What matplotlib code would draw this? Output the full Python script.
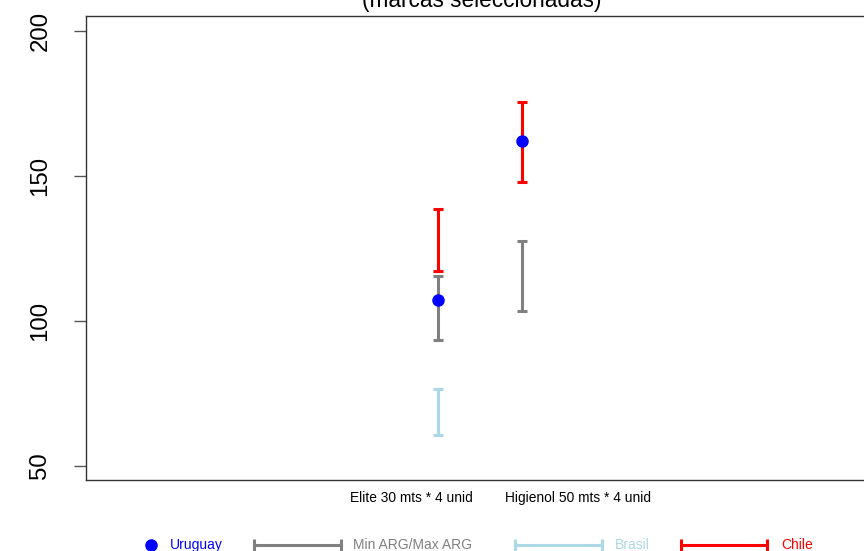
import numpy as np
import matplotlib.pyplot as plt
from matplotlib.lines import Line2D

plt.rcParams['font.family'] = ['Liberation Sans', 'DejaVu Sans']

# data
products = ["Elite 30 mts * 4 unid", "Higienol 50 mts * 4 unid"]
x = np.array([1, 2])
label_pos = [0.68, 2.67]
uruguay = [107.2, 162.0]
arg_min = [93.4, 103.5]
arg_max = [115.5, 127.5]
brasil_min = [60.6, np.nan]
brasil_max = [76.5, np.nan]
chile_min = [117.2, 147.9]
chile_max = [138.6, 175.6]

W, H = 864, 551
fig = plt.figure(figsize=(W / 100, H / 100), dpi=100)
ax = fig.add_axes([86 / W, 71 / H, 792 / W, 464.3 / H])


def bars(lo, hi, color):
    lo = np.asarray(lo, dtype=float)
    hi = np.asarray(hi, dtype=float)
    ok = ~np.isnan(lo)
    ax.errorbar(x[ok], (lo[ok] + hi[ok]) / 2, yerr=(hi[ok] - lo[ok]) / 2,
                fmt='none', ecolor=color, elinewidth=2.2,
                capsize=3.3, capthick=2.2, zorder=2)


bars(arg_min, arg_max, 'grey')
bars(brasil_min, brasil_max, 'lightblue')
bars(chile_min, chile_max, 'red')
ax.plot(x, uruguay, 'o', color='blue', markersize=8, zorder=3)

ax.set_xlim(-3.19, 6.24)
ax.set_ylim(45.07, 205.3)
ax.set_yticks([50, 100, 150, 200])
ax.set_yticklabels(['50', '100', '150', '200'], rotation=90, va='center')
ax.tick_params(axis='y', length=9, width=1, color='#555555', labelsize=17.3, pad=16)
ax.set_xticks(label_pos)
ax.set_xticklabels(products)
ax.tick_params(axis='x', length=0, labelsize=9.9, pad=8)
for s in ax.spines.values():
    s.set_color('#333333')
    s.set_linewidth(1)

# title sits partly above the top edge, as in the reference
fig.text(482 / W, 1 - 7 / H, "(marcas seleccionadas)", ha='center', va='baseline',
         fontsize=16.3)

# legend drawn below the plot
ly = 1 - 545 / H


def fx(px):
    return px / W


fig.add_artist(Line2D([fx(150.7)], [ly], marker='o', color='blue', markersize=8,
                      linestyle='none', transform=fig.transFigure))
fig.text(fx(169.8), ly, "Uruguay", color='blue', fontsize=10, va='center')
legend_items = [
    (254, 340.5, 352.7, 'grey', "Min ARG/Max ARG"),
    (514.6, 601.5, 614.6, 'lightblue', "Brasil"),
    (680.5, 767.3, 781.5, 'red', "Chile"),
]
for x0, x1, tx, c, lab in legend_items:
    fig.add_artist(Line2D([fx(x0), fx(x1)], [ly, ly], color=c, linewidth=2.2,
                          transform=fig.transFigure))
    fig.add_artist(Line2D([fx(x0), fx(x1)], [ly, ly], color=c, marker='|',
                          markersize=9, markeredgewidth=2.2, linestyle='none',
                          transform=fig.transFigure))
    fig.text(fx(tx), ly, lab, color=c, fontsize=10, va='center')

fig.savefig('out.png', dpi=100)
